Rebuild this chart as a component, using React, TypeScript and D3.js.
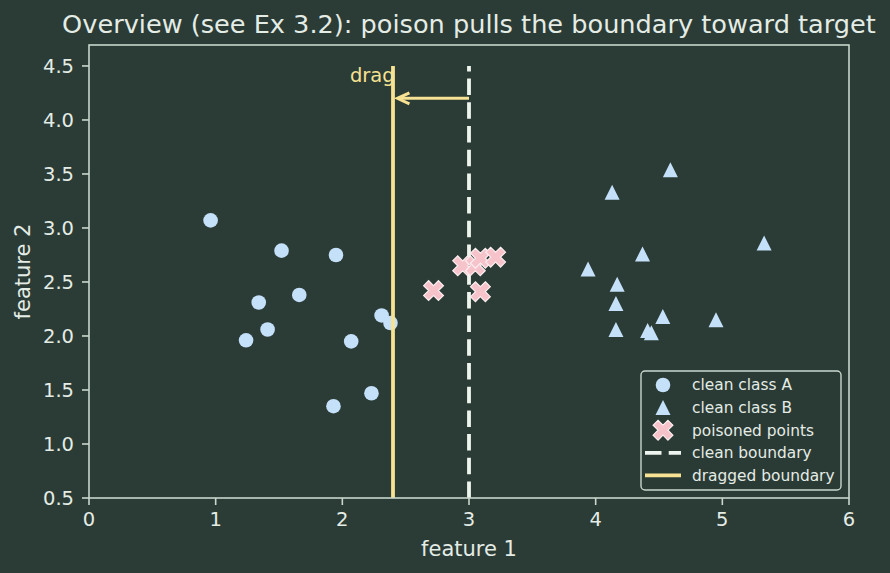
import React from 'react';
import * as d3 from 'd3';

const W = 890;
const H = 573;

const xTicks = [0, 1, 2, 3, 4, 5, 6];
const yTicks = [0.5, 1.0, 1.5, 2.0, 2.5, 3.0, 3.5, 4.0, 4.5];

const classA: [number, number][] = [
  [0.96, 3.07], [1.52, 2.79], [1.95, 2.75], [1.34, 2.31], [1.66, 2.38], [1.41, 2.06],
  [1.24, 1.96], [2.07, 1.95], [2.31, 2.19], [2.38, 2.12], [1.93, 1.35], [2.23, 1.47],
];
const classB: [number, number][] = [
  [4.59, 3.54], [4.13, 3.33], [5.33, 2.86], [4.37, 2.76], [3.94, 2.62], [4.17, 2.48],
  [4.16, 2.30], [4.53, 2.18], [4.95, 2.15], [4.16, 2.06], [4.41, 2.05], [4.44, 2.03],
];
const poisoned: [number, number][] = [
  [2.72, 2.42], [3.09, 2.41], [2.95, 2.65], [3.05, 2.65], [3.09, 2.72], [3.21, 2.73],
];

const cleanBoundaryX = 3.0;
const draggedBoundaryX = 2.4;
const boundarySpan: [number, number] = [0.5, 4.5];
const arrowFromX = 3.0;
const arrowToX = 2.435;
const arrowY = 4.2;
const dragLabel = { text: 'drag', x: 2.06, y: 4.35 };

const legendLabels = ['clean class A', 'clean class B', 'poisoned points', 'clean boundary', 'dragged boundary'];

const title = 'Overview (see Ex 3.2): poison pulls the boundary toward target';
const xLabel = 'feature 1';
const yLabel = 'feature 2';

const BG = '#2b3b35';
const FG = '#e4ece6';
const FRAME = '#c9d8ce';
const BLUE = '#c5e1fa';
const PINK = '#f7c3cb';
const YELLOW = '#f6e292';
const WHITE = '#eef5ee';
const FONT = '"DejaVu Sans", sans-serif';

const left = 89, right = 849, top = 45, bottom = 498;

function xPath(s: number): string {
  const pts = [[-1, -3], [1, -3], [1, -1], [3, -1], [3, 1], [1, 1], [1, 3], [-1, 3], [-1, 1], [-3, 1], [-3, -1], [-1, -1]];
  const c = Math.SQRT1_2;
  return 'M' + pts.map(([x, y]) => {
    const xx = (x / 6) * s, yy = (y / 6) * s;
    return `${(xx - yy) * c},${(xx + yy) * c}`;
  }).join('L') + 'Z';
}

function triPath(s: number): string {
  const h = s / 2;
  return `M0,${-h}L${h},${h}L${-h},${h}Z`;
}

export default function App() {
  const x = d3.scaleLinear().domain([0, 6]).range([left, right]);
  const y = d3.scaleLinear().domain([0.5, 4.694]).range([bottom, top]);
  const fmt = d3.format('.1f');

  const xp = xPath(21);
  const tp = triPath(15);

  const legX = 641, legY = 371, legW = 200, legH = 119;
  const rowY = (i: number) => legY + 14 + i * 22.6;
  const hx = 663;

  return (
    <svg width={W} height={H} style={{ position: 'absolute', left: 0, top: 0 }} fontFamily={FONT}>
      <rect x={0} y={0} width={W} height={H} fill={BG} />
      <text x={(left + right) / 2} y={33} textAnchor="middle" fill={FG} fontSize={25.6}>{title}</text>

      {/* scatter clean */}
      {classA.map((d, i) => (
        <circle key={'a' + i} cx={x(d[0])} cy={y(d[1])} r={7.3} fill={BLUE} />
      ))}
      {classB.map((d, i) => (
        <path key={'b' + i} d={tp} transform={`translate(${x(d[0])},${y(d[1])})`} fill={BLUE} />
      ))}

      {/* boundaries */}
      <line x1={x(cleanBoundaryX)} x2={x(cleanBoundaryX)} y1={y(boundarySpan[0])} y2={y(boundarySpan[1])}
        stroke={WHITE} strokeWidth={3.8} strokeDasharray="16.5 7.2" />

      {/* annotation text */}
      <text x={x(dragLabel.x)} y={y(dragLabel.y)} fill={YELLOW} fontSize={19.5}>{dragLabel.text}</text>

      <line x1={x(draggedBoundaryX)} x2={x(draggedBoundaryX)} y1={y(boundarySpan[0])} y2={y(boundarySpan[1])}
        stroke={YELLOW} strokeWidth={3.8} />

      {/* poisoned */}
      {poisoned.map((d, i) => (
        <path key={'p' + i} d={xp} transform={`translate(${x(d[0])},${y(d[1])})`} fill={PINK} stroke="#fbeef0" strokeWidth={1.2} />
      ))}

      {/* arrow */}
      <line x1={x(arrowFromX)} x2={x(arrowToX) + 1} y1={y(arrowY)} y2={y(arrowY)} stroke={YELLOW} strokeWidth={3} />
      <polyline points={`${x(arrowToX) + 12},${y(arrowY) - 5.5} ${x(arrowToX)},${y(arrowY)} ${x(arrowToX) + 12},${y(arrowY) + 5.5}`}
        fill="none" stroke={YELLOW} strokeWidth={3} strokeLinejoin="miter" />

      {/* frame */}
      <rect x={left} y={top} width={right - left} height={bottom - top} fill="none" stroke={FRAME} strokeWidth={1.6} />

      {/* x ticks */}
      {xTicks.map((t) => (
        <g key={'xt' + t}>
          <line x1={x(t)} x2={x(t)} y1={bottom} y2={bottom + 7} stroke={FRAME} strokeWidth={1.6} />
          <text x={x(t)} y={bottom + 28} textAnchor="middle" fill={FG} fontSize={19.5}>{t}</text>
        </g>
      ))}
      {/* y ticks */}
      {yTicks.map((t) => (
        <g key={'yt' + t}>
          <line x1={left - 7} x2={left} y1={y(t)} y2={y(t)} stroke={FRAME} strokeWidth={1.6} />
          <text x={left - 15} y={y(t) + 7} textAnchor="end" fill={FG} fontSize={19.5}>{fmt(t)}</text>
        </g>
      ))}

      <text x={(left + right) / 2} y={556} textAnchor="middle" fill={FG} fontSize={21}>{xLabel}</text>
      <text transform={`translate(30,${(top + bottom) / 2}) rotate(-90)`} textAnchor="middle" fill={FG} fontSize={21}>{yLabel}</text>

      {/* legend */}
      <rect x={legX} y={legY} width={legW} height={legH} rx={4} fill={BG} fillOpacity={0.8} stroke={FRAME} strokeWidth={1.4} />
      <circle cx={hx} cy={rowY(0)} r={7.3} fill={BLUE} />
      <path d={tp} transform={`translate(${hx},${rowY(1)})`} fill={BLUE} />
      <path d={xp} transform={`translate(${hx},${rowY(2)})`} fill={PINK} stroke="#fbeef0" strokeWidth={1.2} />
      <line x1={645} x2={681} y1={rowY(3)} y2={rowY(3)} stroke={WHITE} strokeWidth={3.8} strokeDasharray="16.5 7.2" />
      <line x1={645} x2={681} y1={rowY(4)} y2={rowY(4)} stroke={YELLOW} strokeWidth={3.8} />
      {legendLabels.map((l, i) => (
        <text key={l} x={692} y={rowY(i) + 5.4} fill={FG} fontSize={15.4}>{l}</text>
      ))}
    </svg>
  );
}
